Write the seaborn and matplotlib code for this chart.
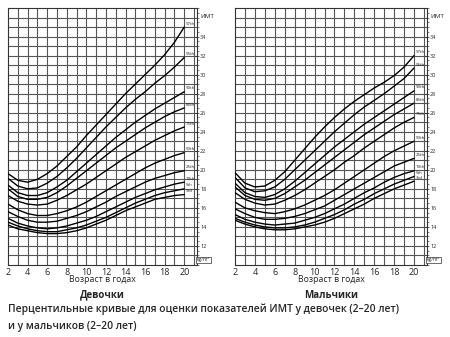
import numpy as np
import pandas as pd
import matplotlib
matplotlib.use("Agg")
import matplotlib.pyplot as plt
import seaborn as sns

# ages on the x axis
ages = list(range(2, 21))
pct_labels = ["97th", "95th", "90th", "85th", "75th", "50th", "25th", "10th", "5th", "3rd"]

# BMI percentiles, girls
girls_97 = [19.6, 18.9, 18.7, 19.0, 19.6, 20.4, 21.4, 22.4, 23.6, 24.7, 25.8, 26.9, 28.0, 29.0, 30.0, 31.0, 32.1, 33.4, 35.0]
girls_95 = [19.1, 18.3, 18.0, 18.1, 18.6, 19.3, 20.2, 21.2, 22.3, 23.4, 24.5, 25.5, 26.5, 27.4, 28.2, 29.1, 29.9, 30.8, 31.8]
girls_90 = [18.4, 17.6, 17.3, 17.3, 17.6, 18.2, 18.9, 19.8, 20.7, 21.6, 22.5, 23.4, 24.2, 25.0, 25.7, 26.4, 27.0, 27.6, 28.2]
girls_85 = [18.0, 17.2, 16.9, 16.9, 17.1, 17.6, 18.3, 19.1, 19.9, 20.7, 21.5, 22.3, 23.0, 23.7, 24.4, 25.0, 25.6, 26.1, 26.5]
girls_75 = [17.3, 16.7, 16.4, 16.3, 16.4, 16.8, 17.3, 17.9, 18.5, 19.2, 19.9, 20.6, 21.3, 21.9, 22.5, 23.1, 23.6, 24.1, 24.5]
girls_50 = [16.4, 15.8, 15.4, 15.2, 15.2, 15.4, 15.7, 16.1, 16.6, 17.2, 17.8, 18.4, 19.0, 19.6, 20.2, 20.7, 21.1, 21.5, 21.8]
girls_25 = [15.6, 15.1, 14.7, 14.5, 14.5, 14.6, 14.9, 15.2, 15.6, 16.1, 16.6, 17.2, 17.7, 18.2, 18.7, 19.1, 19.4, 19.7, 19.9]
girls_10 = [14.9, 14.4, 14.1, 13.9, 13.8, 13.9, 14.1, 14.4, 14.7, 15.1, 15.6, 16.1, 16.6, 17.1, 17.5, 17.9, 18.2, 18.5, 18.7]
girls_5 = [14.5, 14.1, 13.8, 13.6, 13.5, 13.5, 13.7, 13.9, 14.2, 14.6, 15.0, 15.5, 16.0, 16.5, 16.9, 17.3, 17.6, 17.8, 18.0]
girls_3 = [14.2, 13.8, 13.6, 13.4, 13.3, 13.3, 13.4, 13.6, 13.9, 14.3, 14.7, 15.2, 15.7, 16.1, 16.5, 16.9, 17.1, 17.3, 17.4]

# BMI percentiles, boys
boys_97 = [19.7, 18.6, 18.2, 18.3, 18.9, 19.8, 21.0, 22.2, 23.4, 24.5, 25.5, 26.4, 27.2, 27.9, 28.6, 29.2, 29.9, 30.8, 32.0]
boys_95 = [19.2, 18.1, 17.7, 17.8, 18.2, 19.0, 20.0, 21.0, 22.0, 23.0, 24.0, 24.9, 25.8, 26.6, 27.3, 28.0, 28.8, 29.6, 30.7]
boys_90 = [18.6, 17.6, 17.2, 17.1, 17.4, 18.0, 18.8, 19.7, 20.6, 21.5, 22.4, 23.2, 24.0, 24.8, 25.5, 26.2, 26.9, 27.6, 28.3]
boys_85 = [18.2, 17.3, 16.9, 16.8, 17.0, 17.5, 18.2, 18.9, 19.7, 20.5, 21.3, 22.1, 22.9, 23.7, 24.4, 25.1, 25.8, 26.4, 27.0]
boys_75 = [17.6, 16.9, 16.5, 16.3, 16.4, 16.8, 17.3, 17.9, 18.6, 19.3, 20.0, 20.8, 21.5, 22.3, 23.0, 23.7, 24.4, 25.0, 25.5]
boys_50 = [16.6, 16.0, 15.7, 15.5, 15.4, 15.6, 15.9, 16.3, 16.8, 17.3, 17.9, 18.6, 19.3, 20.0, 20.7, 21.4, 22.0, 22.5, 23.0]
boys_25 = [15.9, 15.4, 15.0, 14.8, 14.8, 14.9, 15.1, 15.4, 15.8, 16.2, 16.8, 17.4, 18.0, 18.6, 19.2, 19.8, 20.4, 20.8, 21.2]
boys_10 = [15.3, 14.8, 14.5, 14.3, 14.2, 14.3, 14.4, 14.7, 15.0, 15.4, 15.9, 16.4, 17.0, 17.6, 18.1, 18.7, 19.2, 19.6, 19.9]
boys_5 = [14.9, 14.5, 14.2, 14.0, 13.9, 13.9, 14.0, 14.2, 14.5, 14.9, 15.3, 15.8, 16.4, 16.9, 17.5, 18.0, 18.5, 18.9, 19.3]
boys_3 = [14.7, 14.3, 14.0, 13.8, 13.7, 13.7, 13.8, 14.0, 14.2, 14.5, 14.9, 15.4, 15.9, 16.4, 17.0, 17.5, 18.0, 18.4, 18.8]

girls = [girls_97, girls_95, girls_90, girls_85, girls_75, girls_50, girls_25, girls_10, girls_5, girls_3]
boys = [boys_97, boys_95, boys_90, boys_85, boys_75, boys_50, boys_25, boys_10, boys_5, boys_3]

x_ticks = list(range(2, 21, 2))
y_ticks = list(range(12, 35, 2))


def to_long(series):
    rows = []
    for lab, vals in zip(pct_labels, series):
        for a, v in zip(ages, vals):
            rows.append({"age": a, "bmi": v, "pct": lab})
    return pd.DataFrame(rows)


def draw_panel(ax, series, title):
    df = to_long(series)
    sns.lineplot(data=df, x="age", y="bmi", hue="pct", palette=["black"] * len(pct_labels),
                 legend=False, linewidth=1.0, ax=ax, zorder=3)
    ax.set_xlim(2, 21.3)
    ax.set_ylim(10, 37)
    # 1-year / 1-unit grid, drawn by hand so it covers major tick positions too
    for gx in np.arange(3, 22, 1):
        ax.axvline(gx, color="#555555", linewidth=0.8, zorder=0)
    for gy in np.arange(11, 37, 1):
        ax.axhline(gy, color="#555555", linewidth=0.8, zorder=0)
    ax.set_yticks(np.arange(10, 37.01, 0.5), minor=True)
    ax.set_xticks(x_ticks)
    ax.set_xticklabels([str(t) for t in x_ticks], fontsize=6.5)
    ax.set_yticks(y_ticks)
    ax.set_yticklabels([str(t) for t in y_ticks], fontsize=4)
    ax.yaxis.tick_right()
    ax.tick_params(axis="x", length=0, pad=2)
    ax.tick_params(axis="y", which="major", length=2.5, width=0.5, pad=1, direction="inout")
    ax.tick_params(axis="y", which="minor", length=1.2, width=0.4, direction="out")
    for sp in ax.spines.values():
        sp.set_color("#333333")
        sp.set_linewidth(0.8)
    ax.set_xlabel("")
    ax.set_ylabel("")
    # percentile labels at the end of each curve
    for lab, vals in zip(pct_labels, series):
        ax.text(20.15, vals[-1] + 0.15, lab, fontsize=3.2, ha="left", va="bottom", zorder=4)
    ax.text(1.02, 0.965, "ИМТ", transform=ax.transAxes, fontsize=4.5, ha="left", va="center")
    ax.text(1.0, 0.02, "kg/m²", transform=ax.transAxes, fontsize=3.5, ha="left", va="center",
            bbox=dict(facecolor="white", edgecolor="#333333", linewidth=0.5, pad=0.6))
    ax.text(0.5, -0.058, "Возраст в годах", transform=ax.transAxes, fontsize=6.3,
            ha="center", va="center")
    ax.text(0.5, -0.117, title, transform=ax.transAxes, fontsize=7,
            ha="center", va="center", fontweight="bold")


sns.set_style("white")
plt.rcParams["font.family"] = ["Open Sans", "DejaVu Sans"]

fig = plt.figure(figsize=(4.5, 3.37), dpi=100)
ax_g = fig.add_axes([8 / 450, 1 - 265 / 337, 189 / 450, 257 / 337])
ax_b = fig.add_axes([235 / 450, 1 - 265 / 337, 192 / 450, 257 / 337])

draw_panel(ax_g, girls, "Девочки")
draw_panel(ax_b, boys, "Мальчики")

fig.text(8 / 450, 1 - 309 / 337, "Перцентильные кривые для оценки показателей ИМТ у девочек (2–20 лет)",
         fontsize=7.4, fontweight="semibold", ha="left", va="center")
fig.text(8 / 450, 1 - 327 / 337, "и у мальчиков (2–20 лет)",
         fontsize=7.4, fontweight="semibold", ha="left", va="center")

fig.savefig("out.png", dpi=100)
